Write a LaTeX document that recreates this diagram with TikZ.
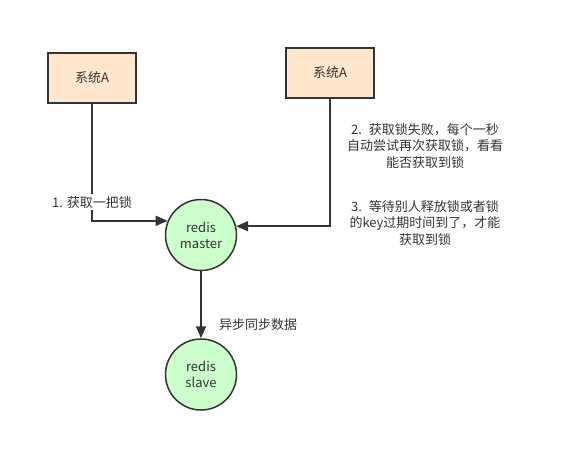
\documentclass[tikz,border=0pt]{standalone}
\usepackage{fontspec}
\setmainfont{Noto Sans CJK SC}
\usetikzlibrary{arrows.meta,positioning}
\definecolor{Ink}{HTML}{333333}
\definecolor{PeachFill}{HTML}{FFE6CC}
\definecolor{MintFill}{HTML}{CCFFCC}

\begin{document}
\begin{tikzpicture}[x=1pt, y=-1pt, font=\fontsize{13}{16.5}\selectfont, text=Ink,
    sysbox/.style={draw=Ink, line width=1.5pt, fill=PeachFill, minimum width=88pt, minimum height=50pt, inner sep=0pt},
    redisnode/.style={circle, draw=Ink, line width=1.5pt, fill=MintFill, minimum size=71pt, inner sep=0pt, align=center, font=\fontsize{13}{16}\selectfont},
    arr/.style={-{Triangle[length=12pt,width=10pt]}, draw=Ink, line width=1.6pt},
    note/.style={align=center, inner sep=1pt}]
      \useasboundingbox (0,0) rectangle (563,471);
      % clients
      \node[sysbox] (clientA) at (92,78) {系统A};
      \node[sysbox] (clientB) at (330,73) {系统A};
      % redis
      \node[redisnode] (master) at (201,235) {redis\\master};
      \node[redisnode, below=67pt of master] (slave) {redis\\slave};
      % connectors
      \draw[arr] (clientA.south) |- node[pos=0.42, fill=white, inner sep=2pt] (lockLbl) {1. 获取一把锁} (master.157);
      \draw[arr] (clientB.south) |- (master.14);
      \draw[arr] (master) -- node[pos=0.8, right=14pt] (syncLbl) {异步同步数据} (slave);
      % notes
      \node[note] (failNote) at (425,146) {2.~ 获取锁失败，每个一秒\\自动尝试再次获取锁，看看\\能否获取到锁};
      \node[note] (waitNote) at (425,223) {3.~ 等待别人释放锁或者锁\\的key过期时间到了，才能\\获取到锁};
    \end{tikzpicture}
\end{document}
